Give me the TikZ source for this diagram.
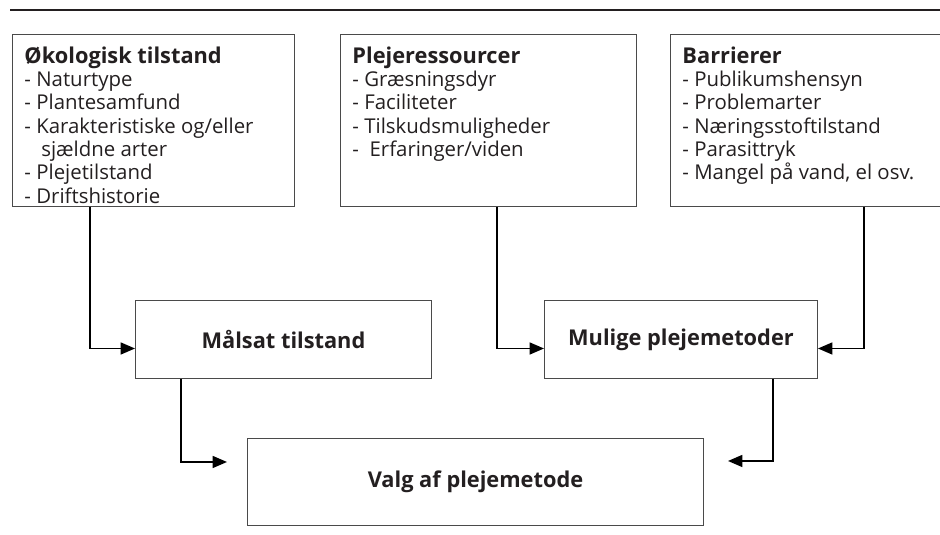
\documentclass[tikz,border=0pt]{standalone}
\usepackage{fontspec}
\setmainfont{Open Sans}
\usepackage{xcolor}
\usepackage{tikz}
\usetikzlibrary{arrows.meta,positioning}
\definecolor{textdark}{HTML}{231F20}
\definecolor{linegray}{HTML}{4A4A4A}
\newcommand{\boxtext}[3]{\parbox[c][#2][t]{#1}{\raggedright #3}}
\newcommand{\boxtitle}[1]{{\bfseries\fontsize{15.5}{16.6}\selectfont #1}}
\tikzset{
  infobox/.style={
    rectangle, draw=linegray, line width=0.7pt, anchor=north west,
    inner xsep=0.3cm, inner ysep=0.3cm,
    font=\fontsize{14.5}{16.6}\selectfont, text=textdark
  },
  goalbox/.style={
    rectangle, draw=linegray, line width=0.7pt,
    minimum height=1.95cm, inner sep=0pt,
    font=\bfseries\fontsize{15.5}{18}\selectfont, text=textdark
  },
  flowarrow/.style={
    -{Triangle[length=0.36cm, width=0.3cm]}, line width=1.1pt, color=#1
  },
  flowarrow/.default=black,
  toprule/.style={
    line width=0.8pt, color=textdark
  },
}
\begin{document}
\begin{tikzpicture}
  \useasboundingbox (0,0) rectangle (23.5,-13.35);
  \clip (0,0) rectangle (23.5,-13.35);
  \draw[toprule] (0.25,-0.25) -- (23.5,-0.25);

  % top row
  \node[infobox] (oko) at (0.3,-0.85)
    {\boxtext{6.45cm}{3.7cm}{\boxtitle{Økologisk tilstand}\\
      - Naturtype\\
      - Plantesamfund\\
      - Karakteristiske og/eller\\
      \hspace*{0.42cm}sjældne arter\\
      - Plejetilstand\\
      - Driftshistorie}};
  \node[infobox, right=1.125cm of oko.north east, anchor=north west] (ress)
    {\boxtext{6.8cm}{3.7cm}{\boxtitle{Plejeressourcer}\\
      - Græsningsdyr\\
      - Faciliteter\\
      - Tilskudsmuligheder\\
      -\ \ Erfaringer/viden}};
  \node[infobox, right=0.825cm of ress.north east, anchor=north west] (barr)
    {\boxtext{6.6cm}{3.7cm}{\boxtitle{Barrierer}\\
      - Publikumshensyn\\
      - Problemarter\\
      - Næringsstoftilstand\\
      - Parasittryk\\
      - Mangel på vand, el osv.}};

  % middle and bottom
  \node[goalbox, below right=2.325cm and 3.075cm of oko.south west,
    minimum width=7.4cm] (mal) {Målsat tilstand};
  \node[goalbox, right=2.8cm of mal,
    minimum width=6.825cm] (mul) {Mulige plejemetoder};
  \node[goalbox, below right=1.475cm and 2.8cm of mal.south west,
    minimum width=11.4cm, minimum height=2.175cm] (valg) {Valg af plejemetode};

  \draw[flowarrow] ([xshift=1.95cm]oko.south west) |- ([yshift=-0.225cm]mal.west);
  \draw[flowarrow] ([xshift=3.925cm]ress.south west) |- ([yshift=-0.225cm]mul.west);
  \draw[flowarrow] ([xshift=4.85cm]barr.south west) |- ([yshift=-0.225cm]mul.east);
  \draw[flowarrow, shorten >=0.5cm] ([xshift=1.15cm]mal.south west)
    |- ([yshift=-0.6cm]valg.north west);
  \draw[flowarrow, shorten >=0.6cm] ([xshift=-1.125cm]mul.south east)
    |- ([yshift=-0.575cm]valg.north east);
\end{tikzpicture}
\end{document}
